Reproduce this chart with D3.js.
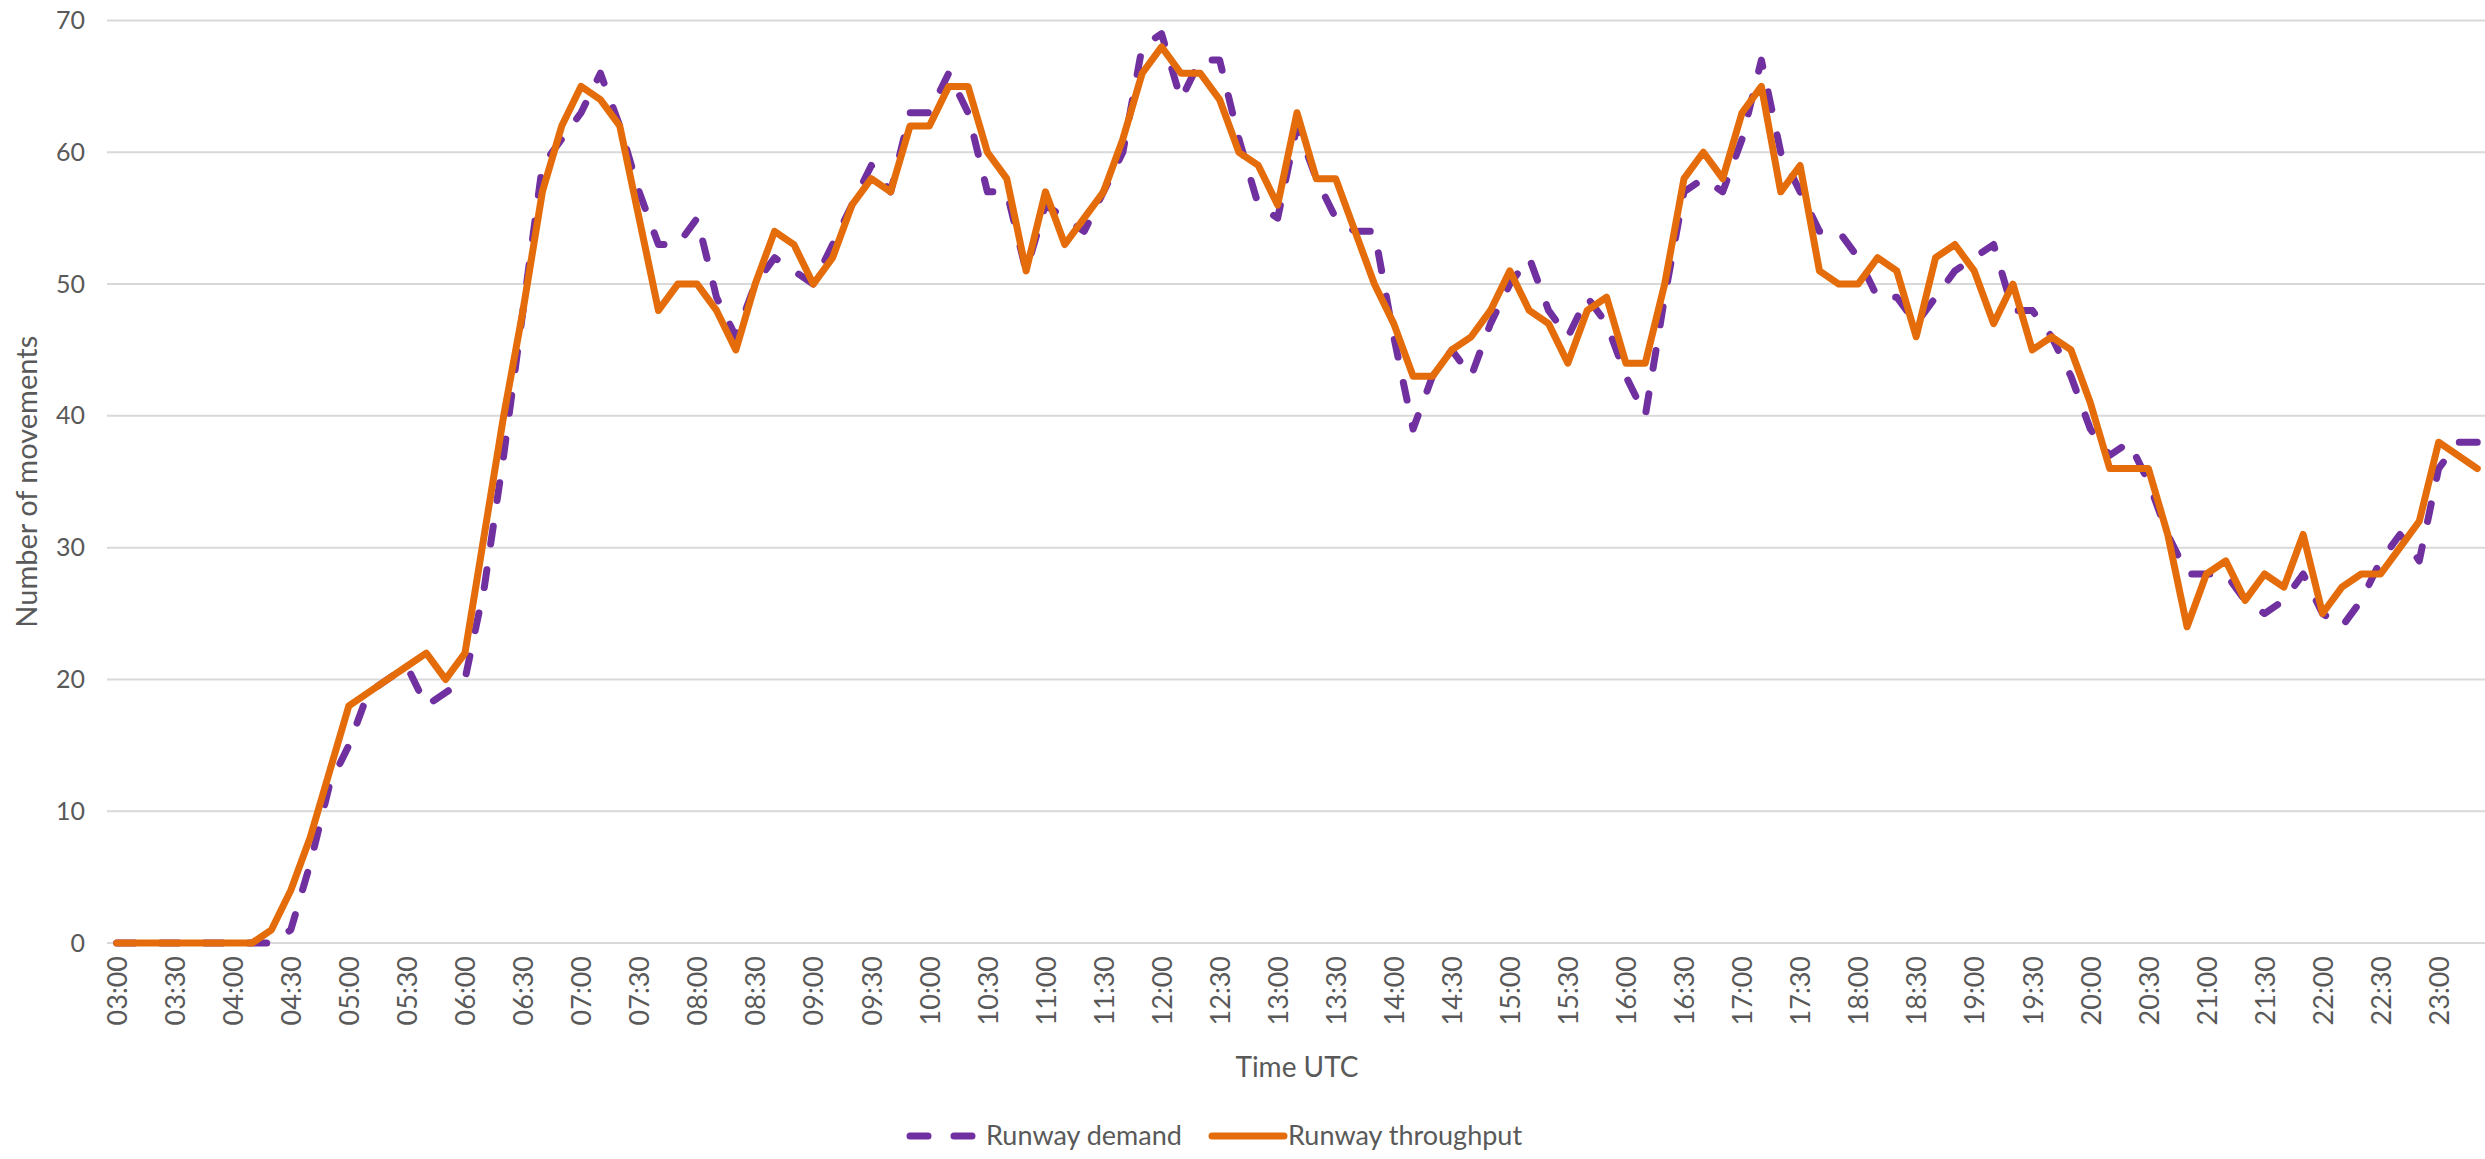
<!DOCTYPE html>
<html>
<head>
<meta charset="utf-8">
<script src="https://cdn.jsdelivr.net/npm/d3@7"></script>
<style>
  html, body { margin: 0; padding: 0; background: #fff; overflow: hidden; }
  svg { display: block; font-family: Lato, "Open Sans", sans-serif; }
</style>
</head>
<body>
<div id="chart"></div>
<script>
// 10-minute slots from 03:00 UTC
const startMinutes = 3 * 60;
const stepMinutes = 10;

const demand = [
  0, 0, 0, 0, 0, 0, 0, 0, 0, 1,
  6, 12, 15, 19, 20, 21, 18, 19, 20, 27,
  37, 48, 59, 61, 63, 66, 62, 57, 53, 53,
  55, 49, 46, 50, 52, 51, 50, 53, 56, 59,
  57, 63, 63, 66, 63, 57, 57, 51, 56, 55,
  54, 57, 60, 68, 69, 64, 67, 67, 61, 56,
  55, 62, 58, 55, 54, 54, 46, 39, 43, 45,
  43, 47, 50, 52, 48, 46, 49, 47, 43, 40,
  49, 57, 58, 57, 61, 67, 60, 57, 54, 54,
  52, 49, 49, 47, 49, 51, 52, 53, 48, 48,
  46, 43, 39, 37, 38, 35, 31, 28, 28, 28,
  26, 25, 26, 28, 25, 24, 26, 29, 31, 29,
  36, 38, 38
];

const throughput = [
  0, 0, 0, 0, 0, 0, 0, 0, 1, 4,
  8, 13, 18, 19, 20, 21, 22, 20, 22, 31,
  40, 48, 57, 62, 65, 64, 62, 55, 48, 50,
  50, 48, 45, 50, 54, 53, 50, 52, 56, 58,
  57, 62, 62, 65, 65, 60, 58, 51, 57, 53,
  55, 57, 61, 66, 68, 66, 66, 64, 60, 59,
  56, 63, 58, 58, 54, 50, 47, 43, 43, 45,
  46, 48, 51, 48, 47, 44, 48, 49, 44, 44,
  50, 58, 60, 58, 63, 65, 57, 59, 51, 50,
  50, 52, 51, 46, 52, 53, 51, 47, 50, 45,
  46, 45, 41, 36, 36, 36, 31, 24, 28, 29,
  26, 28, 27, 31, 25, 27, 28, 28, 30, 32,
  38, 37, 36
];

const yTicks = [0, 10, 20, 30, 40, 50, 60, 70];
const labelEvery = 3;

const seriesNames = ["Runway demand", "Runway throughput"];
const seriesColors = ["#7030A0", "#E46C0A"];

const fmt = m => String(Math.floor(m / 60)).padStart(2, "0") + ":" + String(m % 60).padStart(2, "0");
const times = d3.range(throughput.length).map(i => fmt(startMinutes + i * stepMinutes));

const width = 2485, height = 1159;
const plot = {left: 107, right: 2487, top: 20.5, bottom: 943};

const svg = d3.select("#chart").append("svg")
    .attr("width", width)
    .attr("height", height);

const x = d3.scalePoint()
    .domain(times)
    .range([plot.left, plot.right])
    .padding(0.5);

const y = d3.scaleLinear()
    .domain([0, 70])
    .range([plot.bottom, plot.top]);

// gridlines
svg.append("g")
    .selectAll("line")
    .data(yTicks)
    .join("line")
    .attr("x1", plot.left)
    .attr("x2", width)
    .attr("y1", d => y(d))
    .attr("y2", d => y(d))
    .attr("stroke", "#d9d9d9")
    .attr("stroke-width", 2);

// y axis labels
const yAxis = svg.append("g")
    .attr("transform", "translate(85,0)")
    .call(d3.axisLeft(y).tickValues(yTicks).tickSize(0).tickPadding(0));
yAxis.select(".domain").remove();
yAxis.selectAll("text")
    .attr("fill", "#595959")
    .style("font-size", "25px")
    .style("font-family", "Lato, sans-serif");

// x axis labels, every third slot
const xAxis = svg.append("g")
    .attr("transform", `translate(0,${plot.bottom})`)
    .call(d3.axisBottom(x)
        .tickValues(times.filter((d, i) => i % labelEvery === 0))
        .tickSize(0));
xAxis.select(".domain").remove();
xAxis.selectAll("text")
    .attr("fill", "#595959")
    .style("font-size", "27px")
    .style("font-family", "Lato, sans-serif")
    .attr("text-anchor", "end")
    .attr("transform", "rotate(-90)")
    .attr("x", -13)
    .attr("y", 0)
    .attr("dy", "0.36em");

// axis titles
svg.append("text")
    .attr("x", (plot.left + plot.right) / 2)
    .attr("y", 1067)
    .attr("dy", "0.35em")
    .attr("text-anchor", "middle")
    .attr("fill", "#595959")
    .style("font-size", "28px")
    .text("Time UTC");

svg.append("text")
    .attr("transform", `translate(27,${(plot.top + plot.bottom) / 2}) rotate(-90)`)
    .attr("dy", "0.35em")
    .attr("text-anchor", "middle")
    .attr("fill", "#595959")
    .style("font-size", "29px")
    .text("Number of movements");

// lines
const line = d3.line()
    .x((d, i) => x(times[i]))
    .y(d => y(d));

svg.append("path")
    .datum(demand)
    .attr("fill", "none")
    .attr("stroke", seriesColors[0])
    .attr("stroke-width", 7)
    .attr("stroke-linecap", "round")
    .attr("stroke-linejoin", "round")
    .attr("stroke-dasharray", "18,26")
    .attr("d", line);

svg.append("path")
    .datum(throughput)
    .attr("fill", "none")
    .attr("stroke", seriesColors[1])
    .attr("stroke-width", 7)
    .attr("stroke-linecap", "round")
    .attr("stroke-linejoin", "round")
    .attr("d", line);

// legend
const legend = svg.append("g").attr("transform", "translate(0,1136)");
const legendItems = [
    {name: seriesNames[0], color: seriesColors[0], x0: 906, dash: "18,26"},
    {name: seriesNames[1], color: seriesColors[1], x0: 1208, dash: null}
];
legendItems.forEach(d => {
    legend.append("line")
        .attr("x1", d.x0 + 4)
        .attr("x2", d.x0 + 76)
        .attr("stroke", d.color)
        .attr("stroke-width", 7)
        .attr("stroke-linecap", "round")
        .attr("stroke-dasharray", d.dash);
    legend.append("text")
        .attr("x", d.x0 + 80)
        .attr("dy", "0.35em")
        .attr("fill", "#595959")
        .style("font-size", "27px")
        .text(d.name);
});
</script>
</body>
</html>
